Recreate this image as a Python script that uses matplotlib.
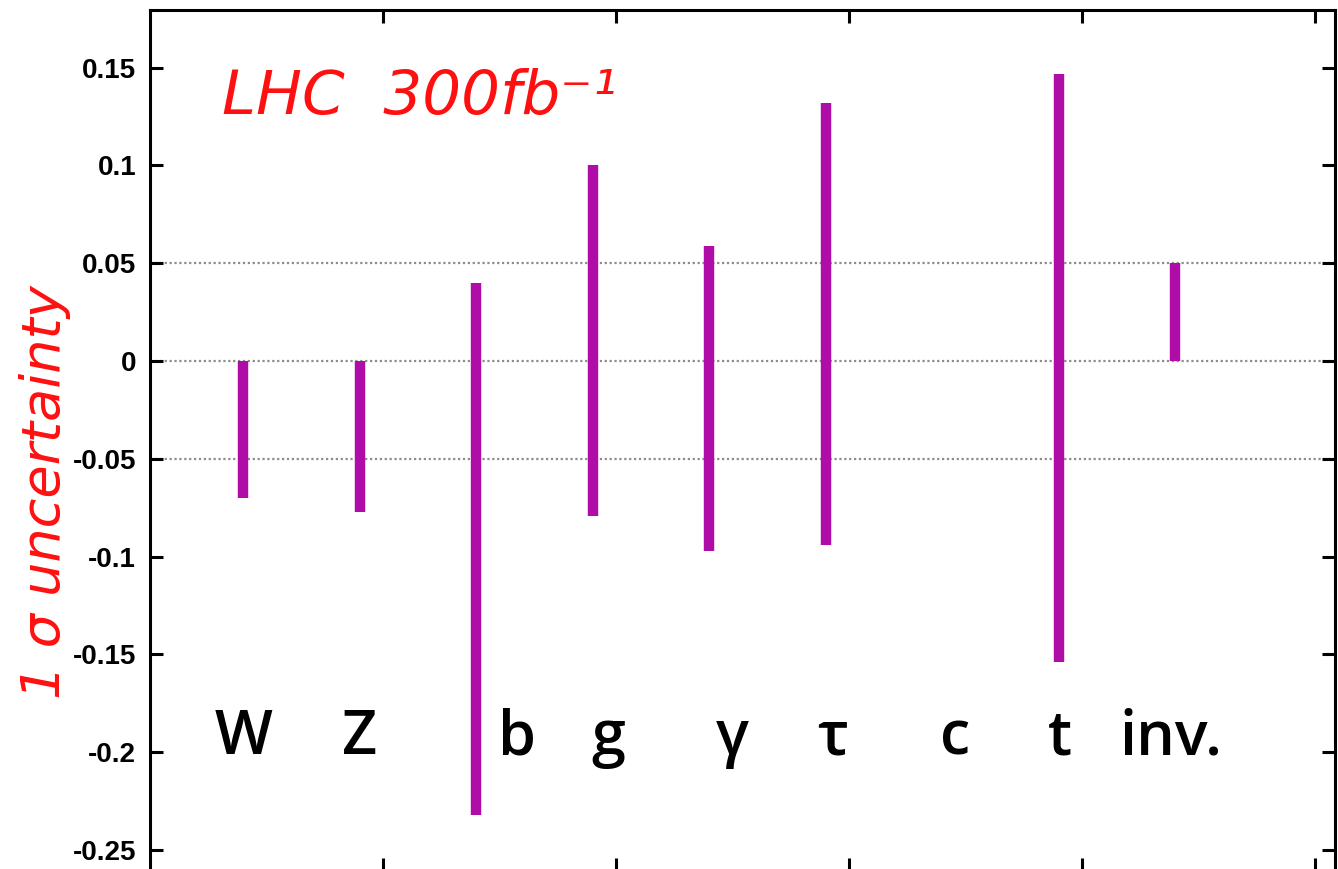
import matplotlib
matplotlib.use("Agg")
import matplotlib.pyplot as plt
import numpy as np

## Data ##
channels = ["W", "Z", "b", "g", "γ", "τ", "c", "t", "inv."]
bar_pos = [0.4, 0.9, 1.4, 1.9, 2.4, 2.9, 3.4, 3.9, 4.4]   # bar centres on the x scale
upper = [0.0, 0.0, 0.040, 0.100, 0.059, 0.132, np.nan, 0.147, 0.050]
lower = [-0.070, -0.077, -0.232, -0.079, -0.097, -0.094, np.nan, -0.154, 0.0]
label_pos = [0.4, 0.9, 1.575, 1.965, 2.50, 2.93, 3.455, 3.905, 4.38]
yticks = [-0.25, -0.2, -0.15, -0.1, -0.05, 0, 0.05, 0.1, 0.15]
ytick_labels = ["-0.25", "-0.2", "-0.15", "-0.1", "-0.05", "0", "0.05", "0.1", "0.15"]
grid_levels = [-0.05, 0, 0.05]

bar_color = "#b00ca8"

fig = plt.figure(figsize=(13.38, 8.69), dpi=100)
# axes frame: left at 150px, top at 10px, bottom just below the picture
ax = fig.add_axes([150 / 1338, 1 - 871 / 869, 1185 / 1338, 861 / 869])
ax.set_xlim(0, 5.085)
ax.set_ylim(-0.2607, 0.1795)

# dotted reference lines
for g in grid_levels:
    ax.axhline(g, color="#8c8c8c", linestyle=(0, (1, 1.2)), linewidth=1.6, zorder=1)

# uncertainty bars
ax.vlines(bar_pos, lower, upper, color=bar_color, linewidth=7.5, zorder=3)

# channel labels inside the plot
for name, xp in zip(channels, label_pos):
    ax.text(xp, -0.201, name, ha="center", va="baseline", fontsize=44,
            family="Open Sans", fontweight="semibold", color="black")

# ticks and frame
ax.set_yticks(yticks)
ax.set_yticklabels(ytick_labels, fontsize=20, fontweight="bold", family="Liberation Sans")
ax.set_xticks([1, 2, 3, 4, 5])
ax.set_xticklabels([])
ax.tick_params(direction="in", length=9.5, width=2.2, top=True, right=True, pad=10)
for s in ax.spines.values():
    s.set_linewidth(2.2)

# red annotations
ax.text(0.31, 0.1265, "LHC  300fb⁻¹", fontsize=44, style="italic",
        color="#ff1010", family="DejaVu Sans", ha="left", va="baseline")
fig.text(45 / 1338, 1 - 492 / 869, "1 σ uncertainty", rotation=90, fontsize=39,
         style="italic", color="#ff1010", family="DejaVu Sans", ha="center", va="center")

fig.savefig("out.png", dpi=100)
